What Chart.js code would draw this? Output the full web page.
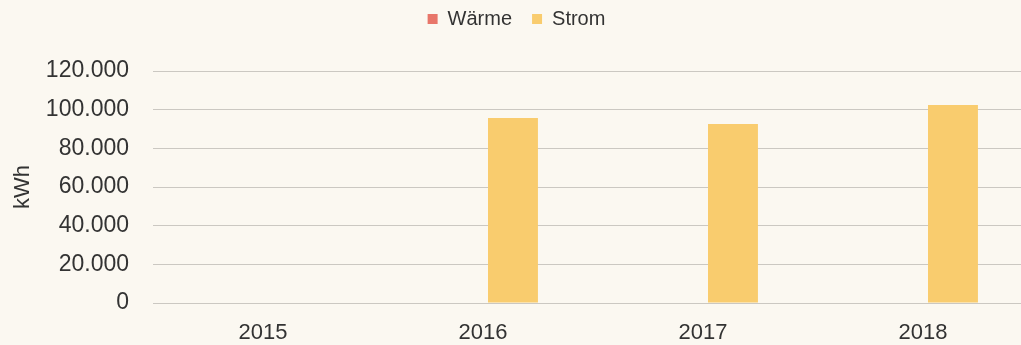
<!DOCTYPE html>
<html>
<head>
<meta charset="utf-8">
<script src="https://cdn.jsdelivr.net/npm/chart.js@4/dist/chart.umd.min.js"></script>
<style>
  html, body { margin: 0; padding: 0; background: #fbf8f1; overflow: hidden; }
  #wrap { width: 1040px; height: 345px; }
</style>
</head>
<body>
<div id="wrap"><canvas id="canvas1" width="1040" height="345"></canvas></div>
<script>
// Daten
const jahre = ['2015', '2016', '2017', '2018'];
const waerme = [0, 0, 0, 0];
const strom = [0, 95700, 92600, 102400];
const yTicks = [0, 20000, 40000, 60000, 80000, 100000, 120000];

function tausender(v) {
    return v.toString().replace(/\B(?=(\d{3})+(?!\d))/g, '.');
}

// Legende: feste Höhe, etwas nach oben geschoben
const legendeFix = {
    id: 'legendeFix',
    afterInit: function(chart) {
        const orig = chart.legend.fit;
        chart.legend.fit = function() {
            orig.call(this);
            this.height = 71;
        };
    },
    afterLayout: function(chart) {
        chart.legend.top -= 11;
    }
};

Chart.defaults.font.family = '"Liberation Sans", Arial, sans-serif';
Chart.defaults.color = '#3a3a3a';

let canvas1 = document.getElementById('canvas1');
let myChart1 = new Chart(canvas1, {
    type: 'bar',
    data: {
        labels: jahre,
        datasets: [{
            label: 'Wärme',
            data: waerme,
            backgroundColor: '#e8766a',
            borderWidth: 0
        },
        {
            label: 'Strom',
            data: strom,
            backgroundColor: '#f9cc6e',
            borderWidth: 0
        }]
    },
    plugins: [legendeFix],
    options: {
        responsive: false,
        animation: false,
        layout: { padding: { top: 0, right: 7, left: 0, bottom: 0 } },
        datasets: {
            bar: { categoryPercentage: 0.545, barPercentage: 0.833 }
        },
        plugins: {
            tooltip: { enabled: false },
            legend: {
                position: 'top',
                labels: {
                    boxWidth: 10,
                    boxHeight: 10,
                    padding: 20,
                    font: { size: 20 },
                    color: '#333333'
                }
            }
        },
        scales: {
            x: {
                grid: { display: false, drawTicks: false },
                border: { display: false },
                ticks: { font: { size: 22 }, padding: 17, color: '#333333' },
                afterFit: function(scale) { scale.height = 42; }
            },
            y: {
                min: 0,
                max: 120000,
                afterBuildTicks: function(scale) {
                    scale.ticks = yTicks.map(v => ({ value: v }));
                },
                grid: { color: '#cbc8c2', lineWidth: 1, drawTicks: false },
                border: { display: false },
                ticks: {
                    font: { size: 23 },
                    padding: 24,
                    color: '#333333',
                    callback: function(value) { return tausender(value); }
                },
                title: {
                    display: true,
                    text: 'kWh',
                    font: { size: 22 },
                    color: '#333333',
                    padding: { top: 10, bottom: 0 }
                },
                afterFit: function(scale) { scale.width = 153; }
            }
        }
    }
});
</script>
</body>
</html>
